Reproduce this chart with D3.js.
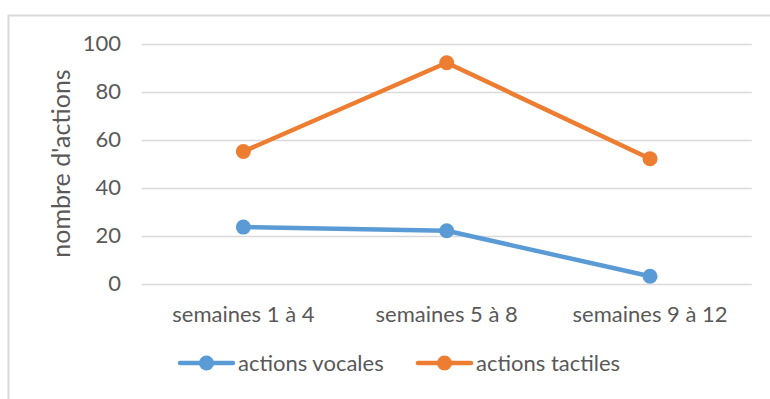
<!DOCTYPE html>
<html>
<head>
<meta charset="utf-8">
<script src="https://cdn.jsdelivr.net/npm/d3@7"></script>
<style>
  html, body { margin: 0; padding: 0; background: #fff; }
  svg { display: block; font-family: Lato, "Open Sans", sans-serif; }
</style>
</head>
<body>
<svg id="chart" width="770" height="399"></svg>
<script>
// Periods on the x axis
const categories = ["semaines 1 à 4", "semaines 5 à 8", "semaines 9 à 12"];
// Number of actions per period
const vocales = [23.5, 22, 3];
const tactiles = [55, 92, 52];
const seriesNames = ["actions vocales", "actions tactiles"];
const seriesColors = ["#5B9BD5", "#ED7D31"];
const yTicks = [0, 20, 40, 60, 80, 100];
const yTitle = "nombre d'actions";

const series = [
  { name: seriesNames[0], values: vocales, color: seriesColors[0] },
  { name: seriesNames[1], values: tactiles, color: seriesColors[1] }
];

const svg = d3.select("#chart");
const textColor = "#595959";
const gridColor = "#d9d9d9";
const fontSize = 22;

// Outer chart frame
svg.append("rect")
  .attr("x", 8.5).attr("y", 15.5)
  .attr("width", 780).attr("height", 400)
  .attr("fill", "#fff")
  .attr("stroke", gridColor)
  .attr("stroke-width", 2);

const plot = { left: 141.7, right: 751.7, top: 43.5, bottom: 283.5 };

const x = d3.scaleBand()
  .domain(categories)
  .range([plot.left, plot.right]);

const y = d3.scaleLinear()
  .domain([0, 100])
  .range([plot.bottom, plot.top]);

// Horizontal gridlines
svg.append("g")
  .selectAll("line")
  .data(yTicks)
  .join("line")
  .attr("x1", plot.left).attr("x2", plot.right)
  .attr("y1", d => Math.round(y(d)) + 0.5)
  .attr("y2", d => Math.round(y(d)) + 0.5)
  .attr("stroke", gridColor)
  .attr("stroke-width", 1.3);

// Y axis tick labels
const yAxis = d3.axisLeft(y).tickValues(yTicks).tickSize(0).tickPadding(0);
svg.append("g")
  .attr("transform", `translate(${121},0)`)
  .call(yAxis)
  .call(g => g.select(".domain").remove())
  .call(g => g.selectAll("text")
    .attr("fill", textColor)
    .attr("font-size", fontSize)
    .attr("font-family", "Lato, sans-serif"));

// X axis category labels
const xAxis = d3.axisBottom(x).tickSize(0).tickPadding(0);
svg.append("g")
  .attr("transform", `translate(0,${306})`)
  .call(xAxis)
  .call(g => g.select(".domain").remove())
  .call(g => g.selectAll("text")
    .attr("fill", textColor)
    .attr("font-size", fontSize)
    .attr("font-family", "Lato, sans-serif"));

// Y axis title
svg.append("text")
  .attr("transform", `translate(${70},${163.5}) rotate(-90)`)
  .attr("text-anchor", "middle")
  .attr("fill", textColor)
  .attr("font-size", 25)
  .text(yTitle);

// Lines and markers
const line = d3.line()
  .x((d, i) => x(categories[i]) + x.bandwidth() / 2)
  .y(d => y(d));

series.forEach(s => {
  svg.append("path")
    .datum(s.values)
    .attr("d", line)
    .attr("fill", "none")
    .attr("stroke", s.color)
    .attr("stroke-width", 4.5)
    .attr("stroke-linejoin", "round")
    .attr("stroke-linecap", "round");
  svg.append("g")
    .selectAll("circle")
    .data(s.values)
    .join("circle")
    .attr("cx", (d, i) => x(categories[i]) + x.bandwidth() / 2)
    .attr("cy", d => y(d))
    .attr("r", 7.5)
    .attr("fill", s.color);
});

// Legend
const legendY = 363;
const legendX = [180, 418];
series.forEach((s, i) => {
  const g = svg.append("g").attr("transform", `translate(${legendX[i]},${legendY})`);
  g.append("line")
    .attr("x1", 0).attr("x2", 53)
    .attr("y1", 0).attr("y2", 0)
    .attr("stroke", s.color)
    .attr("stroke-width", 4.5)
    .attr("stroke-linecap", "round");
  g.append("circle")
    .attr("cx", 26.5).attr("cy", 0)
    .attr("r", 7.5)
    .attr("fill", s.color);
  g.append("text")
    .attr("x", 58).attr("y", 0)
    .attr("dy", "0.35em")
    .attr("fill", textColor)
    .attr("font-size", fontSize)
    .text(s.name);
});
</script>
</body>
</html>
